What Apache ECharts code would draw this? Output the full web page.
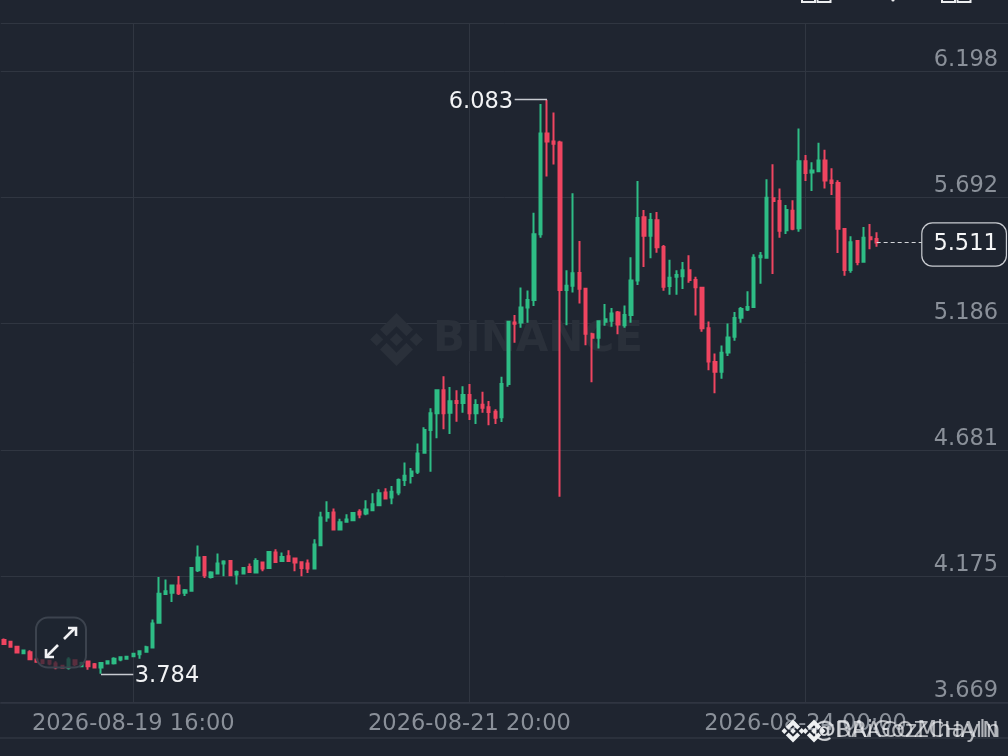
<!DOCTYPE html>
<html><head><meta charset="utf-8">
<style>html,body{margin:0;padding:0;background:#1f2530}#c{width:1008px;height:756px}</style>
<script src="https://cdn.jsdelivr.net/npm/echarts@6/dist/echarts.min.js"></script>
</head><body><div id="c"></div>
<script>
const opens=[3.919,3.912,3.892,3.866,3.870,3.841,3.838,3.836,3.825,3.816,3.808,3.838,3.814,3.833,3.822,3.809,3.825,3.826,3.841,3.844,
3.854,3.862,3.872,3.889,3.988,4.103,4.108,4.138,4.108,4.116,4.199,4.252,4.172,4.186,4.226,4.236,4.182,4.186,4.212,4.190,
4.230,4.208,4.270,4.236,4.255,4.246,4.231,4.226,4.206,4.299,4.410,4.430,4.362,4.393,4.399,4.433,4.426,4.439,4.459,4.510,
4.490,4.510,4.560,4.576,4.593,4.669,4.760,4.827,4.919,4.829,4.876,4.868,4.900,4.827,4.861,4.851,4.833,4.811,4.944,5.191,
5.191,5.251,5.281,5.544,5.948,5.915,5.911,5.321,5.338,5.389,5.326,5.144,5.130,5.194,5.198,5.231,5.180,5.221,5.359,5.612,
5.538,5.600,5.493,5.337,5.374,5.376,5.400,5.361,5.330,5.168,5.033,4.993,5.071,5.134,5.210,5.243,5.253,5.452,5.450,5.688,
5.677,5.560,5.638,5.568,5.836,5.791,5.796,5.839,5.759,5.749,5.565,5.401,5.517,5.434,5.532,5.525];
const closes=[3.903,3.892,3.869,3.877,3.842,3.832,3.827,3.825,3.810,3.809,3.841,3.822,3.827,3.814,3.809,3.827,3.834,3.844,3.850,3.852,
3.864,3.874,3.890,3.985,4.104,4.114,4.138,4.106,4.118,4.208,4.250,4.179,4.190,4.226,4.234,4.179,4.192,4.208,4.192,4.236,
4.206,4.272,4.232,4.252,4.236,4.230,4.208,4.206,4.302,4.410,4.428,4.362,4.391,4.402,4.428,4.422,4.442,4.463,4.507,4.486,
4.513,4.560,4.577,4.594,4.666,4.760,4.827,4.919,4.827,4.875,4.868,4.900,4.827,4.860,4.849,4.832,4.809,4.944,5.194,5.186,
5.251,5.281,5.544,5.948,5.915,5.906,5.321,5.338,5.388,5.326,5.146,5.130,5.196,5.204,5.227,5.183,5.221,5.359,5.609,5.538,
5.601,5.492,5.334,5.370,5.381,5.400,5.361,5.332,5.168,5.035,4.993,5.070,5.131,5.209,5.245,5.253,5.450,5.458,5.690,5.677,
5.558,5.641,5.566,5.836,5.789,5.799,5.839,5.759,5.749,5.566,5.401,5.512,5.433,5.530,5.524,5.511];
const lows=[3.901,3.888,3.866,3.864,3.838,3.829,3.822,3.818,3.802,3.806,3.801,3.814,3.810,3.800,3.808,3.784,3.821,3.821,3.834,3.842,
3.852,3.844,3.868,3.889,3.988,4.100,4.071,4.099,4.095,4.116,4.192,4.168,4.166,4.186,4.175,4.175,4.142,4.183,4.188,4.188,
4.195,4.206,4.228,4.234,4.236,4.195,4.175,4.188,4.206,4.299,4.393,4.362,4.359,4.391,4.396,4.407,4.419,4.438,4.455,4.483,
4.463,4.499,4.536,4.546,4.584,4.669,4.593,4.727,4.763,4.744,4.793,4.829,4.800,4.784,4.829,4.779,4.784,4.792,4.933,5.110,
5.170,5.190,5.257,5.530,5.775,5.823,4.493,5.180,5.311,5.267,5.100,4.951,5.087,5.178,5.174,5.144,5.170,5.190,5.341,5.413,
5.448,5.470,5.318,5.302,5.302,5.325,5.350,5.219,5.154,4.999,4.907,4.965,5.057,5.118,5.190,5.237,5.250,5.346,5.446,5.385,
5.530,5.545,5.560,5.554,5.757,5.717,5.795,5.727,5.701,5.469,5.378,5.390,5.420,5.433,5.484,5.494];
const highs=[3.925,3.916,3.894,3.877,3.878,3.848,3.840,3.838,3.834,3.820,3.850,3.842,3.832,3.836,3.827,3.827,3.834,3.850,3.852,3.854,
3.866,3.878,3.896,4.001,4.172,4.162,4.142,4.176,4.124,4.211,4.298,4.256,4.195,4.266,4.239,4.239,4.198,4.211,4.226,4.247,
4.232,4.276,4.283,4.270,4.279,4.250,4.234,4.242,4.323,4.433,4.475,4.446,4.405,4.423,4.431,4.443,4.479,4.507,4.523,4.527,
4.536,4.566,4.630,4.608,4.706,4.771,4.847,4.919,4.975,4.932,4.919,4.935,4.944,4.883,4.913,4.876,4.843,4.973,5.194,5.221,
5.331,5.319,5.630,6.066,6.083,6.032,5.918,5.400,5.708,5.517,5.326,5.150,5.200,5.265,5.249,5.237,5.259,5.452,5.757,5.641,
5.629,5.633,5.501,5.442,5.400,5.433,5.460,5.374,5.330,5.195,5.067,5.099,5.187,5.233,5.253,5.316,5.464,5.473,5.764,5.824,
5.727,5.661,5.680,5.968,5.861,5.832,5.910,5.882,5.808,5.760,5.569,5.536,5.520,5.573,5.585,5.552];
const priceTicks=[3.669,4.175,4.681,5.186,5.692,6.198];
const tickIndexes=[20,72,124];
const slotCount=156;
const lastPrice=5.511, highPrice=6.083, lowPrice=3.784;

const pad=n=>String(n).padStart(2,'0');
const categories=Array.from({length:slotCount},(_,i)=>{
  const d=new Date(Date.UTC(2026,7,18,20+i));
  return `${d.getUTCFullYear()}-${pad(d.getUTCMonth()+1)}-${pad(d.getUTCDate())} ${pad(d.getUTCHours())}:00`;
});
const ohlc=opens.map((o,i)=>[o,closes[i],lows[i],highs[i]]);

const BG='#1f2530',GRID='#303641',GREY='#8a9099',GREEN='#2ebd85',RED='#ef4560',FONT='"DejaVu Sans", sans-serif';
const logoShapes=[
 [[50,38],[62,50],[50,62],[38,50]],[[14,38],[26,50],[14,62],[2,50]],[[86,38],[98,50],[86,62],[74,50]],
 [[50,2],[80,32],[68,44],[50,26],[32,44],[20,32]],[[50,98],[80,68],[68,56],[50,74],[32,56],[20,68]]];
const logoAt=(x,y,size,fill,z)=>logoShapes.map(p=>({type:'polygon',z,shape:{points:p.map(([a,b])=>[x+a*size/100,y+b*size/100])},style:{fill}}));
const mkText=(text,x,y,extra)=>({type:'text',x,y,z:23,style:Object.assign({text,font:'22px '+FONT,fill:'#f2f3f5',textVerticalAlign:'middle'},extra||{})});
const priceLabel=(i,price,position,offset,extra)=>({coord:[i,price],symbol:'circle',symbolSize:1,itemStyle:{color:'rgba(0,0,0,0)'},
  label:Object.assign({show:true,position,distance:0,offset,formatter:price.toFixed(3),color:'#f2f3f5',fontFamily:FONT,fontSize:22.5},extra||{})});

const chart=echarts.init(document.getElementById('c'),null,{renderer:'canvas'});
chart.setOption({
  animation:false,backgroundColor:BG,
  grid:{left:0.77,top:23,width:1008.4,height:679.5,containLabel:false,outerBoundsMode:'none'},
  xAxis:{type:'category',data:categories,boundaryGap:true,
    axisLine:{show:true,lineStyle:{color:GRID,width:1.5}},
    axisTick:{show:false,interval:(i)=>tickIndexes.includes(i),alignWithLabel:true},
    axisLabel:{interval:(i)=>tickIndexes.includes(i),color:GREY,fontFamily:FONT,fontSize:22.5,margin:10,hideOverlap:false},
    splitLine:{show:true,interval:(i)=>tickIndexes.includes(i),alignWithLabel:true,lineStyle:{color:GRID,width:1}}
  },
  yAxis:{type:'value',position:'right',min:3.669,max:6.390,scale:true,
    axisLine:{show:false},
    axisTick:{show:false,customValues:priceTicks.concat([6.390])},
    axisLabel:{inside:true,customValues:priceTicks,formatter:v=>v.toFixed(3),color:GREY,fontFamily:FONT,fontSize:22.5,margin:11,verticalAlign:'bottom',lineHeight:22},
    splitLine:{show:true,lineStyle:{color:GRID,width:1}}
  },
  series:[{type:'candlestick',data:ohlc,barWidth:2.8,z:3,
    itemStyle:{color:GREEN,color0:RED,borderColor:GREEN,borderColor0:RED,borderColorDoji:RED,borderWidth:2},
    markLine:{symbol:'none',silent:true,z:6,animation:false,precision:3,label:{show:false},
      data:[
        [{coord:[84,highPrice],lineStyle:{color:'#c7cad0',width:1.3,type:'solid'}},{coord:[79,highPrice]}],
        [{coord:[15,lowPrice],lineStyle:{color:'#c7cad0',width:1.3,type:'solid'}},{coord:[20,lowPrice]}],
        [{coord:[135,lastPrice],lineStyle:{color:'#d5d7db',width:1.2,type:[4,3]}},{coord:[142,lastPrice]}]
      ]},
    markPoint:{silent:true,z:7,animation:false,
      data:[
        priceLabel(79,highPrice,'left',[-1,2.5]),
        priceLabel(20,lowPrice,'right',[1,2.5]),
        priceLabel(142,lastPrice,'right',[0,2],{color:'#f5f6f7',padding:[12,8,7,11],borderColor:'#c9ccd1',borderWidth:1.2,borderRadius:10,backgroundColor:BG})
      ]}
  }],
  graphic:{elements:[
    ...logoAt(369,312,55,'#2a303a',1),
    {type:'text',z:1,x:433,y:340,style:{text:'BINANCE',font:'bold 42px '+FONT,fill:'#2a303a',textVerticalAlign:'middle'}},
    {type:'line',z:1,shape:{x1:0,y1:738,x2:1008,y2:738},style:{stroke:GRID,lineWidth:1.5}},
    {type:'rect',z:20,shape:{x:36,y:617.5,width:50,height:50,r:12},style:{fill:'rgba(31,37,48,0.72)',stroke:'#3c434e',lineWidth:2}},
    {type:'polyline',z:21,shape:{points:[[58,645],[47,656]]},style:{stroke:'#f0f1f3',lineWidth:2.6,fill:null}},
    {type:'polyline',z:21,shape:{points:[[46,649],[46,657],[54,657]]},style:{stroke:'#f0f1f3',lineWidth:2.6,fill:null}},
    {type:'polyline',z:21,shape:{points:[[64,639],[75,628]]},style:{stroke:'#f0f1f3',lineWidth:2.6,fill:null}},
    {type:'polyline',z:21,shape:{points:[[68,628],[76,628],[76,636]]},style:{stroke:'#f0f1f3',lineWidth:2.6,fill:null}},
    {type:'rect',z:21,shape:{x:802,y:-8,width:13,height:10},style:{fill:null,stroke:'#eceef0',lineWidth:2}},
    {type:'rect',z:21,shape:{x:817.5,y:-8,width:13,height:10},style:{fill:null,stroke:'#eceef0',lineWidth:2}},
    {type:'rect',z:21,shape:{x:942,y:-8,width:13,height:10},style:{fill:null,stroke:'#eceef0',lineWidth:2}},
    {type:'rect',z:21,shape:{x:957.5,y:-8,width:13,height:10},style:{fill:null,stroke:'#eceef0',lineWidth:2}},
    {type:'circle',z:21,shape:{cx:893,cy:0,r:1.6},style:{fill:'#eceef0'}},
    ...logoAt(781,719,24,'#eef0f2',22),
    ...logoAt(802,719,24,'#eef0f2',22),
    mkText('@DRACOZCHAIN',813,731,{font:'22px '+FONT,fill:'rgba(240,241,243,0.7)'}),
    mkText('@RAiGozMhayln',813,731,{font:'23px '+FONT,fill:'rgba(240,241,243,0.7)'})
  ]}
});
</script></body></html>
